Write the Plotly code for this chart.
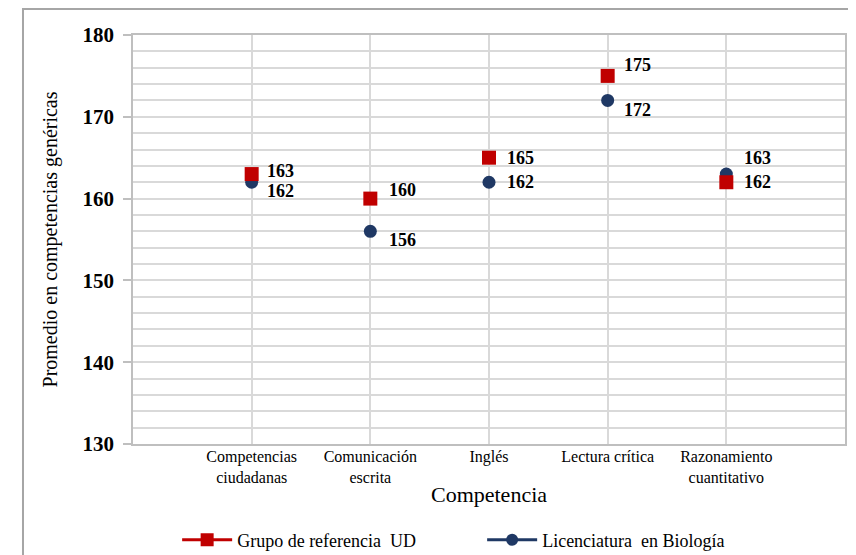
import plotly.graph_objects as go

categories = ["Competencias<br>ciudadanas", "Comunicación<br>escrita", "Inglés",
              "Lectura crítica", "Razonamiento<br>cuantitativo"]
grupo_ud = [163, 160, 165, 175, 162]
biologia = [162, 156, 162, 172, 163]
y_ticks = [130, 140, 150, 160, 170, 180]

# label offsets (px) per point
red_off = [(29, 3), (32, 9), (31, 0), (30, 11), (31, 0)]
navy_off = [(29, -9), (32, -9), (31, 0), (30, -10), (31, 16)]

RED = "#C00000"
NAVY = "#1F3864"
SERIF = "Liberation Serif, Times New Roman, serif"
xpos = list(range(1, len(categories) + 1))

fig = go.Figure()
fig.add_trace(go.Scatter(x=xpos, y=biologia, mode="markers",
                         marker=dict(symbol="circle", size=13, color=NAVY),
                         showlegend=False))
fig.add_trace(go.Scatter(x=xpos, y=grupo_ud, mode="markers",
                         marker=dict(symbol="square", size=14, color=RED),
                         showlegend=False))
# legend entries
fig.add_trace(go.Scatter(x=[None], y=[None], mode="lines+markers",
                         name="Grupo de referencia  UD",
                         line=dict(color=RED, width=3),
                         marker=dict(symbol="square", size=13, color=RED)))
fig.add_trace(go.Scatter(x=[None], y=[None], mode="lines+markers",
                         name="Licenciatura  en Biología",
                         line=dict(color=NAVY, width=3),
                         marker=dict(symbol="circle", size=12, color=NAVY)))

annots = []
for xi, v, (dx, dy) in zip(xpos, grupo_ud, red_off):
    annots.append(dict(x=xi, y=v, text=f"<b>{v}</b>", showarrow=False,
                       xshift=dx, yshift=dy, font=dict(family=SERIF, size=18, color="black")))
for xi, v, (dx, dy) in zip(xpos, biologia, navy_off):
    annots.append(dict(x=xi, y=v, text=f"<b>{v}</b>", showarrow=False,
                       xshift=dx, yshift=dy, font=dict(family=SERIF, size=18, color="black")))

# page body has an 8px margin; figure compensates for it
fig.update_layout(
    width=848, height=547,
    margin=dict(l=125, r=11, t=27, b=111, autoexpand=False),
    paper_bgcolor="white", plot_bgcolor="white",
    font=dict(family=SERIF, color="black"),
    annotations=annots,
    showlegend=True,
    legend=dict(orientation="h", x=0.062, y=-0.235, xanchor="left", yanchor="middle",
                font=dict(family=SERIF, size=18, color="black"),
                entrywidth=240, itemwidth=50),
    shapes=[dict(type="rect", xref="paper", yref="paper",
                 x0=-0.1545, x1=1.03, y0=-0.3, y1=1.0636,
                 line=dict(color="#A6A6A6", width=2), fillcolor="rgba(0,0,0,0)", layer="below")],
)
fig.update_xaxes(range=[0, 6], tickvals=xpos, ticktext=categories, automargin=False,
                 showgrid=True, gridcolor="#D9D9D9", gridwidth=1.5,
                 showline=True, linecolor="#BFBFBF", linewidth=1.5, mirror=True,
                 ticks="", zeroline=False, ticklabelstandoff=-3,
                 tickfont=dict(family=SERIF, size=16, color="black"),
                 title=dict(text="Competencia", font=dict(family=SERIF, size=22, color="black"),
                            standoff=2))
fig.update_yaxes(range=[130, 180], tickvals=y_ticks, automargin=False,
                 ticktext=[f"<b>{t}</b>" for t in y_ticks],
                 showgrid=True, gridcolor="#D9D9D9", gridwidth=1.5,
                 minor=dict(dtick=2, showgrid=True, gridcolor="#D9D9D9", gridwidth=1.5, ticks=""),
                 showline=True, linecolor="#BFBFBF", linewidth=1.5, mirror=True,
                 ticks="outside", ticklen=8, tickcolor="#BFBFBF", tickwidth=1.5,
                 zeroline=False, ticklabelstandoff=5,
                 tickfont=dict(family=SERIF, size=21, color="black"),
                 title=dict(text="Promedio en competencias genéricas",
                            font=dict(family=SERIF, size=20, color="black"), standoff=20))

fig.write_html("out.html")
